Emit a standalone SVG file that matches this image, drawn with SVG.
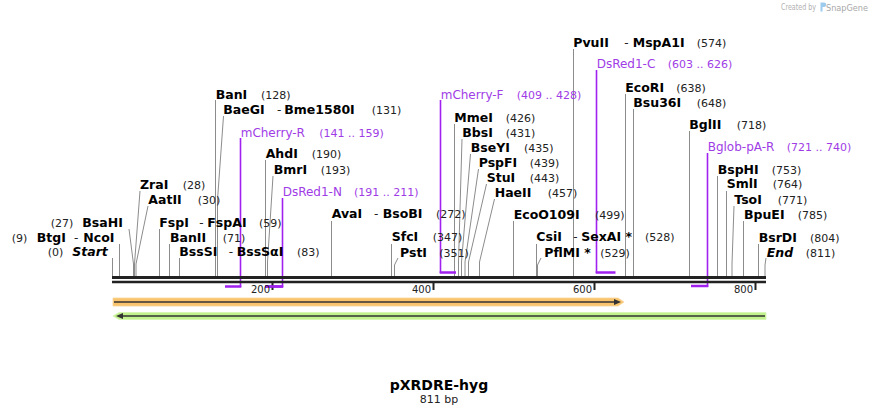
<svg xmlns="http://www.w3.org/2000/svg" width="878" height="415" viewBox="0 0 878 415">
<style>
text{font-family:"DejaVu Sans",Verdana,sans-serif}
.n{font-size:12.5px;font-weight:bold;fill:#000}
.it{font-style:italic}
.c{font-size:11px;fill:#222}
.d{font-size:12px;fill:#222}
.p{font-size:12px;fill:#a03ce6}
.pr{font-size:11px;fill:#a03ce6}
.t{font-size:10px;fill:#222;text-anchor:end}
.l{stroke:#8c8c8c;stroke-width:1;fill:none}
.pl{stroke:#a020f0;stroke-width:1.6;fill:none}
.pb{stroke:#a020f0;stroke-width:2.5;fill:none}
.bb{stroke:#222;fill:none}
</style>
<rect width="878" height="415" fill="#fff"/>

<g id="credit">
<text x="781" y="10" textLength="35" lengthAdjust="spacingAndGlyphs" style="font-size:8px;fill:#b0b0b0">Created by</text>
<path d="M820.5 2.5 h3.5 a2.2 2.2 0 0 1 0 4.4 h-1.5 v4.6 h-2 z" fill="#9ccbee"/>
<text x="826" y="11" textLength="42" lengthAdjust="spacingAndGlyphs" style="font-size:9.5px;fill:#a8a8a8">SnapGene</text>
</g>

<g id="connectors">
<path class="l" d="M112.5 258V276"/>
<path class="l" d="M119.5 244V276"/>
<path class="l" d="M129 229L133.5 264V276"/>
<path class="l" d="M140 191L134.5 264V276"/>
<path class="l" d="M148 206L136 264V276"/>
<path class="l" d="M159.5 229V276"/>
<path class="l" d="M169.5 244V276"/>
<path class="l" d="M179.5 258V276"/>
<path class="l" d="M215.5 100V276"/>
<path class="l" d="M223.5 116L217.5 200V276"/>
<path class="l" d="M265.5 160V276"/>
<path class="l" d="M273 176L267.5 262V276"/>
<path class="l" d="M331.5 221V276"/>
<path class="l" d="M391.5 244V276"/>
<path class="l" d="M398 258L394.5 265V276"/>
<path class="l" d="M454.5 124V276"/>
<path class="l" d="M462 139L458.5 262V276"/>
<path class="l" d="M470.5 154L461.5 262V276"/>
<path class="l" d="M478.5 169L465 262V276"/>
<path class="l" d="M486.5 184L468.5 262V276"/>
<path class="l" d="M494.5 199L479.5 262V276"/>
<path class="l" d="M513.5 221V276"/>
<path class="l" d="M536.5 244V276"/>
<path class="l" d="M541 258L537.5 265V276"/>
<path class="l" d="M573.5 49V276"/>
<path class="l" d="M625.5 94V276"/>
<path class="l" d="M633.5 109V276"/>
<path class="l" d="M689.5 131V276"/>
<path class="l" d="M717.5 176V276"/>
<path class="l" d="M726.5 191V276"/>
<path class="l" d="M734 206L732 264V276"/>
<path class="l" d="M743.5 221V276"/>
<path class="l" d="M758.5 244V276"/>
<path class="l" d="M766 258L765 265V276"/>
<!-- primers -->
<path class="pl" d="M240.5 138V287"/>
<path class="pb" d="M225 286.5H241.3"/>
<path class="pl" d="M282.5 198V287"/>
<path class="pb" d="M265 286.5H283.3"/>
<path class="pl" d="M440.5 100V273"/>
<path class="pb" d="M439.7 272.5H456"/>
<path class="pl" d="M596.5 70V273"/>
<path class="pb" d="M595.7 272.5H615.5"/>
<path class="pl" d="M707.5 153V287"/>
<path class="pb" d="M691 286H708.3"/>
</g>

<g id="backbone">
<path class="bb" stroke-width="3" d="M112 277.5H766"/>
<path class="bb" stroke-width="2.5" d="M112 282H766"/>
<path class="bb" stroke-width="2" d="M272.5 283V290M433.5 283V290M594.5 283V290M755.5 283V290"/>
<path stroke="#a020f0" stroke-width="2.5" d="M265 286.5H283"/>
<text class="t" x="270" y="293">200</text>
<text class="t" x="431" y="293">400</text>
<text class="t" x="592" y="293">600</text>
<text class="t" x="753" y="293">800</text>
</g>

<g id="feature-orange">
<path d="M113 298H618L624 302L618 306H113Z" fill="#f9c46c" stroke="#f6d49a" stroke-width="0.8"/>
<path d="M114 302H616" stroke="#333" stroke-width="1.6"/>
<path d="M614 299L621 302L614 305Z" fill="#333"/>
</g>
<g id="feature-green">
<path d="M119 312.5H766V319.5H119L113 316Z" fill="#c2f28c" stroke="#d6f5b3" stroke-width="0.8"/>
<path d="M118 316H765" stroke="#333" stroke-width="1.6"/>
<path d="M123 313L116 316L123 319Z" fill="#333"/>
</g>

<g id="n0"><text class="c" x="47.7" y="256">(0)</text><text class="n it" x="72.3" y="256">Start</text></g>
<g id="n9"><text class="c" x="11.7" y="242">(9)</text><text class="n" x="36.7" y="242">BtgI</text><text class="d" x="74" y="242">-</text><text class="n" x="83.3" y="242">NcoI</text></g>
<g id="n27"><text class="c" x="50.7" y="227">(27)</text><text class="n" x="82.3" y="227">BsaHI</text></g>
<g id="n28"><text class="n" x="140" y="188.5">ZraI</text><text class="c" x="182.7" y="188.5">(28)</text></g>
<g id="n30"><text class="n" x="148.3" y="203.5">AatII</text><text class="c" x="197.7" y="203.5">(30)</text></g>
<g id="n59"><text class="n" x="159.3" y="227">FspI</text><text class="d" x="199.3" y="227">-</text><text class="n" x="207.3" y="227">FspAI</text><text class="c" x="259" y="227">(59)</text></g>
<g id="n71"><text class="n" x="170" y="242">BanII</text><text class="c" x="222.7" y="242">(71)</text></g>
<g id="n83"><text class="n" x="179.3" y="256">BssSI</text><text class="d" x="228.7" y="256">-</text><text class="n" x="236.7" y="256">BssSαI</text><text class="c" x="297" y="256">(83)</text></g>
<g id="n128"><text class="n" x="215.7" y="98.5">BanI</text><text class="c" x="261" y="98.5">(128)</text></g>
<g id="n131"><text class="n" x="223.3" y="113.5">BaeGI</text><text class="d" x="277" y="113.5">-</text><text class="n" x="284.3" y="113.5">Bme1580I</text><text class="c" x="371.7" y="113.5">(131)</text></g>
<g id="p-mcherry-r"><text class="p" x="240.7" y="136.5">mCherry-R</text><text class="pr" x="319.3" y="136.5">(141 .. 159)</text></g>
<g id="n190"><text class="n" x="265.7" y="157.5">AhdI</text><text class="c" x="311.7" y="157.5">(190)</text></g>
<g id="n193"><text class="n" x="273.7" y="173.5">BmrI</text><text class="c" x="320.7" y="173.5">(193)</text></g>
<g id="p-dsred1-n"><text class="p" x="282.7" y="196">DsRed1-N</text><text class="pr" x="354" y="196">(191 .. 211)</text></g>
<g id="n272"><text class="n" x="331.7" y="218">AvaI</text><text class="d" x="374" y="218">-</text><text class="n" x="382.7" y="218">BsoBI</text><text class="c" x="436" y="218">(272)</text></g>
<g id="n347"><text class="n" x="391.7" y="241">SfcI</text><text class="c" x="432.7" y="241">(347)</text></g>
<g id="n351"><text class="n" x="400" y="256.5">PstI</text><text class="c" x="439.3" y="256.5">(351)</text></g>
<g id="p-mcherry-f"><text class="p" x="440.7" y="98.5">mCherry-F</text><text class="pr" x="516.7" y="98.5">(409 .. 428)</text></g>
<g id="n426"><text class="n" x="454.3" y="121.5">MmeI</text><text class="c" x="505.7" y="121.5">(426)</text></g>
<g id="n431"><text class="n" x="462.3" y="136.5">BbsI</text><text class="c" x="505.7" y="136.5">(431)</text></g>
<g id="n435"><text class="n" x="470.7" y="151.5">BseYI</text><text class="c" x="524" y="151.5">(435)</text></g>
<g id="n439"><text class="n" x="478.7" y="166.5">PspFI</text><text class="c" x="529.7" y="166.5">(439)</text></g>
<g id="n443"><text class="n" x="486.7" y="181.5">StuI</text><text class="c" x="529.7" y="181.5">(443)</text></g>
<g id="n457"><text class="n" x="494.7" y="196.5">HaeII</text><text class="c" x="547.7" y="196.5">(457)</text></g>
<g id="n499"><text class="n" x="513.7" y="218.5">EcoO109I</text><text class="c" x="595" y="218.5">(499)</text></g>
<g id="n528"><text class="n" x="536.3" y="241">CsiI</text><text class="d" x="573.3" y="241">-</text><text class="n" x="581.3" y="241">SexAI *</text><text class="c" x="645" y="241">(528)</text></g>
<g id="n529"><text class="n" x="544.3" y="256.5">PflMI *</text><text class="c" x="600.3" y="256.5">(529)</text></g>
<g id="n574"><text class="n" x="573.3" y="46.5">PvuII</text><text class="d" x="624.3" y="46.5">-</text><text class="n" x="632.7" y="46.5">MspA1I</text><text class="c" x="696.7" y="46.5">(574)</text></g>
<g id="p-dsred1-c"><text class="p" x="596.7" y="68">DsRed1-C</text><text class="pr" x="667.7" y="68">(603 .. 626)</text></g>
<g id="n638"><text class="n" x="625.3" y="91.5">EcoRI</text><text class="c" x="676.3" y="91.5">(638)</text></g>
<g id="n648"><text class="n" x="633.3" y="106.5">Bsu36I</text><text class="c" x="696.7" y="106.5">(648)</text></g>
<g id="n718"><text class="n" x="689.3" y="128.5">BglII</text><text class="c" x="736.7" y="128.5">(718)</text></g>
<g id="p-bglob-pa-r"><text class="p" x="707.7" y="151">Bglob-pA-R</text><text class="pr" x="786.7" y="151">(721 .. 740)</text></g>
<g id="n753"><text class="n" x="717.7" y="173.5">BspHI</text><text class="c" x="771.7" y="173.5">(753)</text></g>
<g id="n764"><text class="n" x="726.7" y="188">SmlI</text><text class="c" x="772.7" y="188">(764)</text></g>
<g id="n771"><text class="n" x="734.3" y="203.5">TsoI</text><text class="c" x="777.7" y="203.5">(771)</text></g>
<g id="n785"><text class="n" x="744" y="218.5">BpuEI</text><text class="c" x="797.7" y="218.5">(785)</text></g>
<g id="n804"><text class="n" x="758.7" y="241.5">BsrDI</text><text class="c" x="810" y="241.5">(804)</text></g>
<g id="n811"><text class="n it" x="766.7" y="256.5">End</text><text class="c" x="805.7" y="256.5">(811)</text></g>

<g id="title">
<text x="439" y="389.5" text-anchor="middle" style="font-size:14px;font-weight:bold;fill:#000">pXRDRE-hyg</text>
<text x="439" y="403" text-anchor="middle" style="font-size:11px;fill:#222">811 bp</text>
</g>
</svg>
